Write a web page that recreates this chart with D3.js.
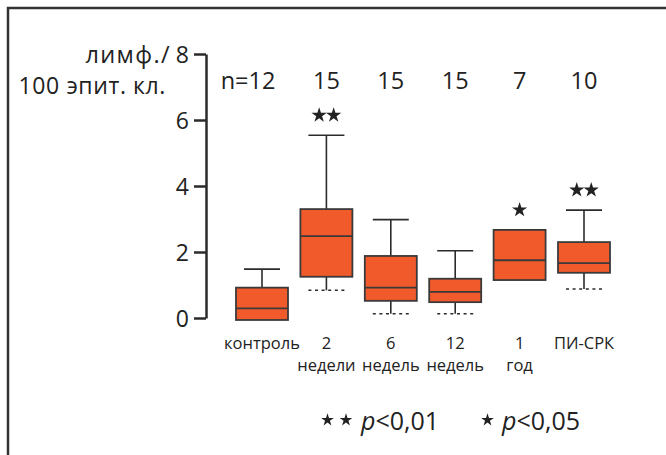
<!DOCTYPE html>
<meta charset="utf-8">
<script src="https://d3js.org/d3.v7.min.js"></script>
<style>
body { margin: 0; }
svg { font-family: "Open Sans", sans-serif; }
</style>
<svg width="666" height="455"></svg>
<script>

// data
var groups = ["контроль", "2 недели", "6 недель", "12 недель", "1 год", "ПИ-СРК"];
var labelTop = ["контроль", "2", "6", "12", "1", "ПИ-СРК"];
var labelBottom = ["", "недели", "недель", "недель", "год", ""];
var counts = [12, 15, 15, 15, 7, 10];
var q1 = [-0.06, 1.25, 0.52, 0.48, 1.15, 1.37];
var median = [0.29, 2.48, 0.92, 0.79, 1.75, 1.66];
var q3 = [0.92, 3.30, 1.88, 1.19, 2.67, 2.30];
var whiskerHigh = [1.48, 5.54, 2.98, 2.04, null, 3.27];
var whiskerLow = [null, 0.84, 0.13, 0.13, null, 0.88];
var stars = [0, 2, 0, 0, 1, 2];
var yTicks = [0, 2, 4, 6, 8];

var svg = d3.select("svg");
var orange = "#f15a2b", ink = "#2b2b2b";

// frame
svg.append("rect")
    .attr("x", 8).attr("y", 8)
    .attr("width", 700).attr("height", 500)
    .attr("fill", "none")
    .attr("stroke", "#333")
    .attr("stroke-width", 2.5);

var x = d3.scalePoint().domain(groups).range([262, 584]);
var y = d3.scaleLinear().domain([0, 8]).range([318, 54]);
var boxW = 52, capW = 36;

// y axis
var yAxis = svg.append("g")
    .attr("transform", "translate(206,0)")
    .call(d3.axisLeft(y).tickValues(yTicks).tickSize(12).tickSizeOuter(0).tickPadding(5));
yAxis.selectAll("path, line").attr("stroke", ink).attr("stroke-width", 2.5);
yAxis.selectAll("text")
    .attr("font-size", 23)
    .attr("font-family", "Open Sans")
    .attr("fill", "#222")
    .attr("dy", "0.37em");

svg.append("text").attr("x", 171).attr("y", 63)
    .attr("text-anchor", "end").attr("font-size", 23.5).attr("letter-spacing", 1.4).attr("fill", "#222")
    .text("лимф./");
svg.append("text").attr("x", 166).attr("y", 94)
    .attr("text-anchor", "end").attr("font-size", 23).attr("letter-spacing", 0.6).attr("fill", "#222")
    .text("100 эпит. кл.");

var box = svg.selectAll("g.box")
    .data(groups)
    .join("g")
      .attr("class", "box")
      .attr("transform", d => "translate(" + x(d) + ",0)");

// upper whiskers
box.filter((d, i) => whiskerHigh[i] != null).each(function(d) {
  var i = groups.indexOf(d), g = d3.select(this);
  g.append("line").attr("y1", y(q3[i])).attr("y2", y(whiskerHigh[i]))
      .attr("stroke", ink).attr("stroke-width", 1.6);
  g.append("line").attr("x1", -capW / 2).attr("x2", capW / 2)
      .attr("y1", y(whiskerHigh[i])).attr("y2", y(whiskerHigh[i]))
      .attr("stroke", ink).attr("stroke-width", 1.6);
});

// lower whiskers (dotted caps)
box.filter((d, i) => whiskerLow[i] != null).each(function(d) {
  var i = groups.indexOf(d), g = d3.select(this);
  g.append("line").attr("y1", y(q1[i])).attr("y2", y(whiskerLow[i]))
      .attr("stroke", ink).attr("stroke-width", 1.6);
  g.append("line").attr("x1", -capW / 2).attr("x2", capW / 2)
      .attr("y1", y(whiskerLow[i])).attr("y2", y(whiskerLow[i]))
      .attr("stroke", ink).attr("stroke-width", 1.6)
      .attr("stroke-dasharray", "3,3.6");
});

box.append("rect")
    .attr("x", -boxW / 2)
    .attr("width", boxW)
    .attr("y", (d, i) => y(q3[i]))
    .attr("height", (d, i) => y(q1[i]) - y(q3[i]))
    .attr("fill", orange)
    .attr("stroke", "#3a3a3a")
    .attr("stroke-width", 1.8);

box.append("line")
    .attr("x1", -boxW / 2).attr("x2", boxW / 2)
    .attr("y1", (d, i) => y(median[i])).attr("y2", (d, i) => y(median[i]))
    .attr("stroke", "#3a3a3a").attr("stroke-width", 1.8);

// significance stars
var starBig = d3.symbol().type(d3.symbolStar).size(72);
box.each(function(d) {
  var i = groups.indexOf(d), k = stars[i];
  if (!k) return;
  var top = whiskerHigh[i] != null ? whiskerHigh[i] : q3[i];
  for (var j = 0; j < k; j++) {
    d3.select(this).append("path")
        .attr("d", starBig)
        .attr("fill", "#222")
        .attr("transform", "translate(" + ((j - (k - 1) / 2) * 14.5) + "," + (y(top) - 20) + ")");
  }
});

// n labels
var nText = box.append("text")
    .attr("y", 89)
    .attr("text-anchor", "middle")
    .attr("font-size", 23.5)
    .attr("fill", "#222")
    .text((d, i) => counts[i]);
var firstW = nText.node().getComputedTextLength();
svg.append("text")
    .attr("x", x(groups[0]) - firstW / 2)
    .attr("y", 89)
    .attr("text-anchor", "end")
    .attr("font-size", 23.5)
    .attr("fill", "#222")
    .text("n=");

// category labels
box.append("text")
    .attr("y", 349)
    .attr("text-anchor", "middle")
    .attr("font-size", 16.5)
    .attr("fill", "#222")
    .text((d, i) => labelTop[i]);
box.append("text")
    .attr("y", 371)
    .attr("text-anchor", "middle")
    .attr("font-size", 16.5)
    .attr("fill", "#222")
    .text((d, i) => labelBottom[i]);

// legend
var starSmall = d3.symbol().type(d3.symbolStar).size(50);
[327.5, 346].forEach(cx => {
  svg.append("path").attr("d", starSmall).attr("fill", "#222")
      .attr("transform", "translate(" + cx + ",420)");
});
svg.append("path").attr("d", starSmall).attr("fill", "#222")
    .attr("transform", "translate(487.5,420)");

function legendText(x0, txt) {
  var t = svg.append("text").attr("x", x0).attr("y", 430)
      .attr("font-size", 25).attr("fill", "#222");
  t.append("tspan").attr("font-style", "italic").text("p");
  t.append("tspan").text(txt);
}
legendText(361, "<0,01");
legendText(502, "<0,05");

</script>
